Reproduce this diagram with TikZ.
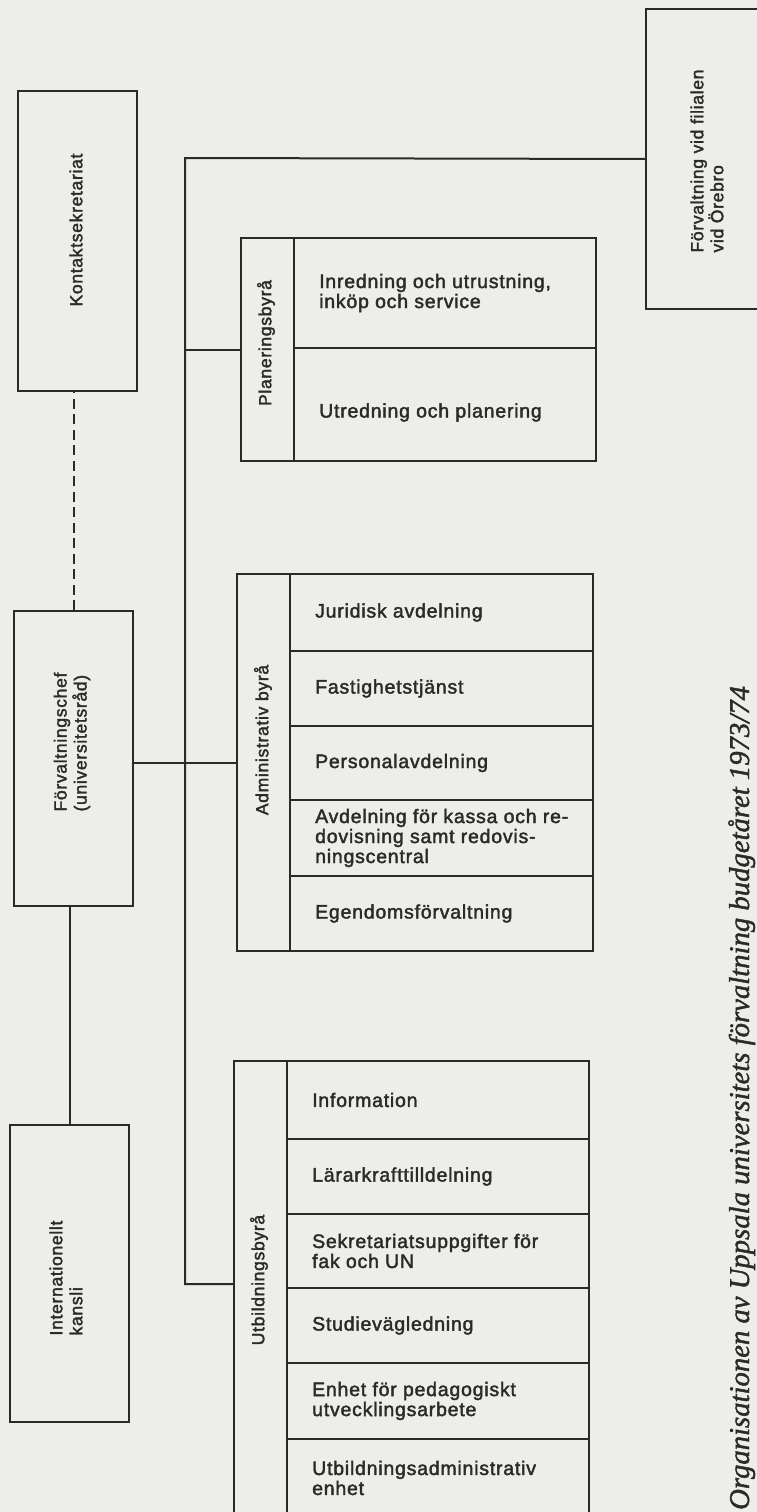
\documentclass[tikz,border=0pt]{standalone}
\usepackage{fontspec}
\newfontfamily\orgfont{Liberation Sans}[LetterSpace=4, FakeBold=2.0]
\newfontfamily\capfont{Liberation Serif}[FakeBold=1.5]
\definecolor{paper}{RGB}{237,238,234}
\definecolor{ink}{RGB}{42,42,42}
\tikzset{
  frame/.style={draw=ink, line width=2pt, inner sep=0pt, anchor=north west},
  conn/.style={draw=ink, line width=2pt},
  dashconn/.style={conn, dash pattern=on 10pt off 5.5pt},
  celltext/.style={inner sep=0pt, text=ink, font=\orgfont\fontsize{19.5}{20}\selectfont,
    anchor=west, xshift=26pt, align=left},
  sidetext/.style={inner sep=0pt, text=ink, font=\orgfont\fontsize{17.5}{20}\selectfont,
    rotate=90, align=left},
  captext/.style={inner sep=0pt, text=ink, rotate=90, anchor=base west,
    font=\capfont\itshape\fontsize{28.7}{30}\selectfont}
}
\begin{document}
\begin{tikzpicture}[x=1pt,y=-1pt]
\useasboundingbox (0,0) rectangle (757,1512);
\fill[paper] (0,0) rectangle (757,1512);
\clip (0,0) rectangle (757,1512);

% staff units on the left
\node[frame, minimum width=119pt, minimum height=300pt] (kontakt) at (17,90) {};
\node[sidetext] (kontaktT) at (76,230) {Kontaktsekretariat};
\node[frame, minimum width=119pt, minimum height=295pt] (chef) at (13,610) {};
\node[sidetext] (chefT) at (72,742) {Förvaltningschef\\(universitetsråd)};
\node[frame, minimum width=119pt, minimum height=297pt] (intl) at (9,1124) {};
\node[sidetext] (intlT) at (66,1278) {Internationellt\\kansli};

% branch office
\node[frame, minimum width=130pt, minimum height=300pt] (orebro) at (645,8) {};
\node[sidetext] (orebroT) at (707,161) {Förvaltning vid filialen\\vid Örebro};

% Planeringsbyrå
\node[frame, minimum width=53pt, minimum height=223pt] (plancol) at (240,237) {};
\node[sidetext] (planT) at (266,343) {Planeringsbyrå};
\node[frame, minimum width=302pt, minimum height=110pt] (p1) at (293,237) {};
\node[celltext] (p1T) at (p1.west) {Inredning och utrustning,\\inköp och service};
\node[frame, minimum width=302pt, minimum height=113pt] (p2) at (293,347) {};
\node[celltext, yshift=-8pt] (p2T) at (p2.west) {Utredning och planering};

% Administrativ byrå
\node[frame, minimum width=53pt, minimum height=377pt] (admcol) at (236,573) {};
\node[sidetext] (admT) at (263,740) {Administrativ byrå};
\node[frame, minimum width=303pt, minimum height=77pt] (a1) at (289,573) {};
\node[celltext] (a1T) at (a1.west) {Juridisk avdelning};
\node[frame, minimum width=303pt, minimum height=75pt] (a2) at (289,650) {};
\node[celltext] (a2T) at (a2.west) {Fastighetstjänst};
\node[frame, minimum width=303pt, minimum height=74pt] (a3) at (289,725) {};
\node[celltext] (a3T) at (a3.west) {Personalavdelning};
\node[frame, minimum width=303pt, minimum height=76pt] (a4) at (289,799) {};
\node[celltext] (a4T) at (a4.west) {Avdelning för kassa och re-\\dovisning samt redovis-\\ningscentral};
\node[frame, minimum width=303pt, minimum height=75pt] (a5) at (289,875) {};
\node[celltext] (a5T) at (a5.west) {Egendomsförvaltning};

% Utbildningsbyrå
\node[frame, minimum width=53pt, minimum height=456pt] (utbcol) at (233,1060) {};
\node[sidetext] (utbT) at (259,1280) {Utbildningsbyrå};
\node[frame, minimum width=302pt, minimum height=78pt] (u1) at (286,1060) {};
\node[celltext] (u1T) at (u1.west) {Information};
\node[frame, minimum width=302pt, minimum height=75pt] (u2) at (286,1138) {};
\node[celltext] (u2T) at (u2.west) {Lärarkrafttilldelning};
\node[frame, minimum width=302pt, minimum height=74pt] (u3) at (286,1213) {};
\node[celltext] (u3T) at (u3.west) {Sekretariatsuppgifter för\\fak och UN};
\node[frame, minimum width=302pt, minimum height=75pt] (u4) at (286,1287) {};
\node[celltext] (u4T) at (u4.west) {Studievägledning};
\node[frame, minimum width=302pt, minimum height=76pt] (u5) at (286,1362) {};
\node[celltext] (u5T) at (u5.west) {Enhet för pedagogiskt\\utvecklingsarbete};
\node[frame, minimum width=302pt, minimum height=78pt] (u6) at (286,1438) {};
\node[celltext] (u6T) at (u6.west) {Utbildningsadministrativ\\enhet};

% connectors
\coordinate (trunkTop) at (185,158);
\coordinate (trunkBot) at (185,1284);
\draw[conn] (orebro.west) -- (trunkTop) -- (trunkBot) -- (trunkBot -| utbcol.west);
\draw[conn] (plancol.west -| trunkTop) -- (plancol.west);
\draw[conn] (chef.east |- admcol.west) -- (admcol.west);
\draw[dashconn] (chef.north) -- (chef.north |- kontakt.south);
\draw[conn] (intl.north) -- (intl.north |- chef.south);

% caption
\node[captext] (caption) at (749,1510) {Organisationen av Uppsala universitets förvaltning budgetåret 1973/74};
\end{tikzpicture}
\end{document}
